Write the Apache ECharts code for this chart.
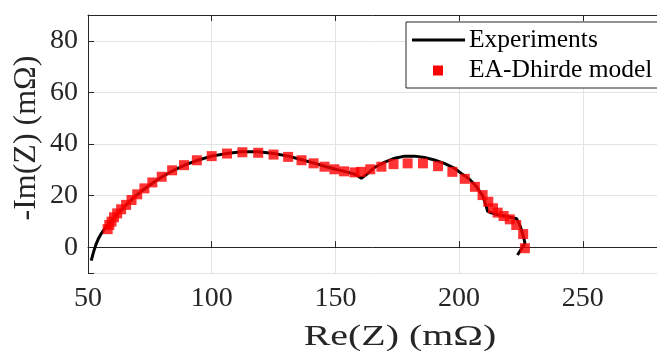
<!DOCTYPE html>
<html>
<head>
<meta charset="utf-8">
<script src="https://cdn.jsdelivr.net/npm/echarts@6/dist/echarts.min.js"></script>
<style>
html,body{margin:0;padding:0;background:#fff;}
#chart{width:657px;height:351px;}
</style>
</head>
<body>
<div id="chart"></div>
<script>
const expX = [51.3,52.2,53.2,54.3,55.5,57,58.6,60.5,62.5,65,68,72,76,80,85,90,95,100,106,112,119,125,131,136,141,146,150,154,158,160.5,163,166,170,174,178,182,186,190,194,198,201,204,207,209.5,210.8,211.5,213,216,220,223.3,224.8,226.3,226.6,223.6];
const expY = [-5.2,-2,1,3.5,5.5,7.5,8.8,11.3,13.5,16,18.8,22,24.8,27.3,30,32.2,33.9,35.3,36.3,37,37,36.3,35.3,34,32.7,31.3,30.2,29.3,28.3,26.7,28.5,31,33,34.5,35.3,35.3,34.8,33.8,32.5,30.7,28.5,26.5,23.5,20,16.5,14,13.3,12.5,11.8,11,8,3,1.5,-3];
const modX = [57.95,58.6,59.5,60.5,61.8,63.4,65.4,67.6,69.9,72.8,76.0,79.8,84.0,88.8,94.0,100.0,106.2,112.4,118.8,125.0,130.9,136.3,141.2,145.6,149.6,153.5,157.7,160.3,164.1,168.6,173.5,179.2,185.4,191.5,197.3,202.3,206.4,209.5,211.8,213.7,215.6,218.0,220.5,223.1,225.9,226.6];
const modY = [7.0,8.6,9.9,11.6,13.1,14.7,16.4,18.3,20.5,22.8,25.1,27.3,29.8,31.8,33.7,35.3,36.3,36.8,36.6,35.9,35.0,33.7,32.5,31.2,30.2,29.4,29.0,29.2,30.2,31.2,32.2,32.5,32.5,31.4,29.2,26.5,23.4,20.2,17.6,15.1,13.4,12.1,10.8,8.6,5.1,-0.4];
const legendNames = ['Experiments','EA-Dhirde model'];
const xTitle = 'Re(Z) (mΩ)';
const yTitle = '-Im(Z) (mΩ)';

const expData = expX.map((x,i)=>[x,expY[i]]);
const modData = modX.map((x,i)=>[x,modY[i]]);
const FONT = '"Liberation Serif","Times New Roman",serif';
const AX = '#262626';

const chart = echarts.init(document.getElementById('chart'), null, {renderer:'canvas'});
chart.setOption({
  animation:false,
  backgroundColor:'#fff',
  grid:{left:88, top:15, width:596, height:258},
  xAxis:[{
    type:'value', min:50, max:280, interval:50,
    axisLine:{show:true, lineStyle:{color:AX, width:1}},
    axisTick:{show:true, inside:true, length:6, lineStyle:{color:AX}},
    axisLabel:{color:AX, fontFamily:FONT, fontSize:28, margin:12, showMaxLabel:false},
    splitLine:{show:true, lineStyle:{color:'#e3e3e3', width:1}}
  },{
    type:'value', position:'top', min:50, max:280, interval:50,
    axisLine:{show:true, onZero:false, lineStyle:{color:AX, width:1}},
    axisTick:{show:true, inside:true, length:6, lineStyle:{color:AX}},
    axisLabel:{show:false}, splitLine:{show:false}
  }],
  yAxis:[{
    type:'value', min:-10, max:90, splitNumber:5,
    axisLine:{show:true, onZero:false, lineStyle:{color:AX, width:1}},
    axisTick:{show:true, inside:true, length:6, lineStyle:{color:AX}},
    axisLabel:{color:AX, fontFamily:FONT, fontSize:28, margin:10,
      formatter:v=> (Math.round(v)%20===0 ? String(Math.round(v)) : '')},
    splitLine:{show:true, lineStyle:{color:'#e3e3e3', width:1}}
  }],
  series:[{
    name:legendNames[0], type:'line', data:expData, showSymbol:false,
    lineStyle:{color:'#000', width:3}, itemStyle:{color:'#000'}, z:2
  },{
    name:legendNames[1], type:'scatter', data:modData, symbol:'rect', symbolSize:10,
    itemStyle:{color:'#ff0000'}, z:3
  }],
  graphic:[
    {type:'rect', shape:{x:406, y:22, width:300, height:66}, style:{fill:'#fff', stroke:AX, lineWidth:1}, z:10},
    {type:'line', shape:{x1:412, y1:40, x2:465, y2:40}, style:{stroke:'#000', lineWidth:3}, z:11},
    {type:'rect', shape:{x:433, y:65.5, width:10, height:10}, style:{fill:'#ff0000'}, z:11},
    {type:'text', x:469, y:40, style:{text:legendNames[0], font:'25.5px '+FONT, fill:'#000', textVerticalAlign:'middle'}, z:11},
    {type:'text', x:469, y:70.5, style:{text:legendNames[1], font:'25.5px '+FONT, fill:'#000', textVerticalAlign:'middle'}, z:11},
    {type:'text', x:400, y:337, scaleX:1.33, style:{text:xTitle, font:'30px '+FONT, fill:AX, textAlign:'center', textVerticalAlign:'middle'}},
    {type:'text', x:26.5, y:138, rotation:Math.PI/2, style:{text:yTitle, font:'32px '+FONT, fill:AX, textAlign:'center', textVerticalAlign:'middle'}}
  ]
});
</script>
</body>
</html>
